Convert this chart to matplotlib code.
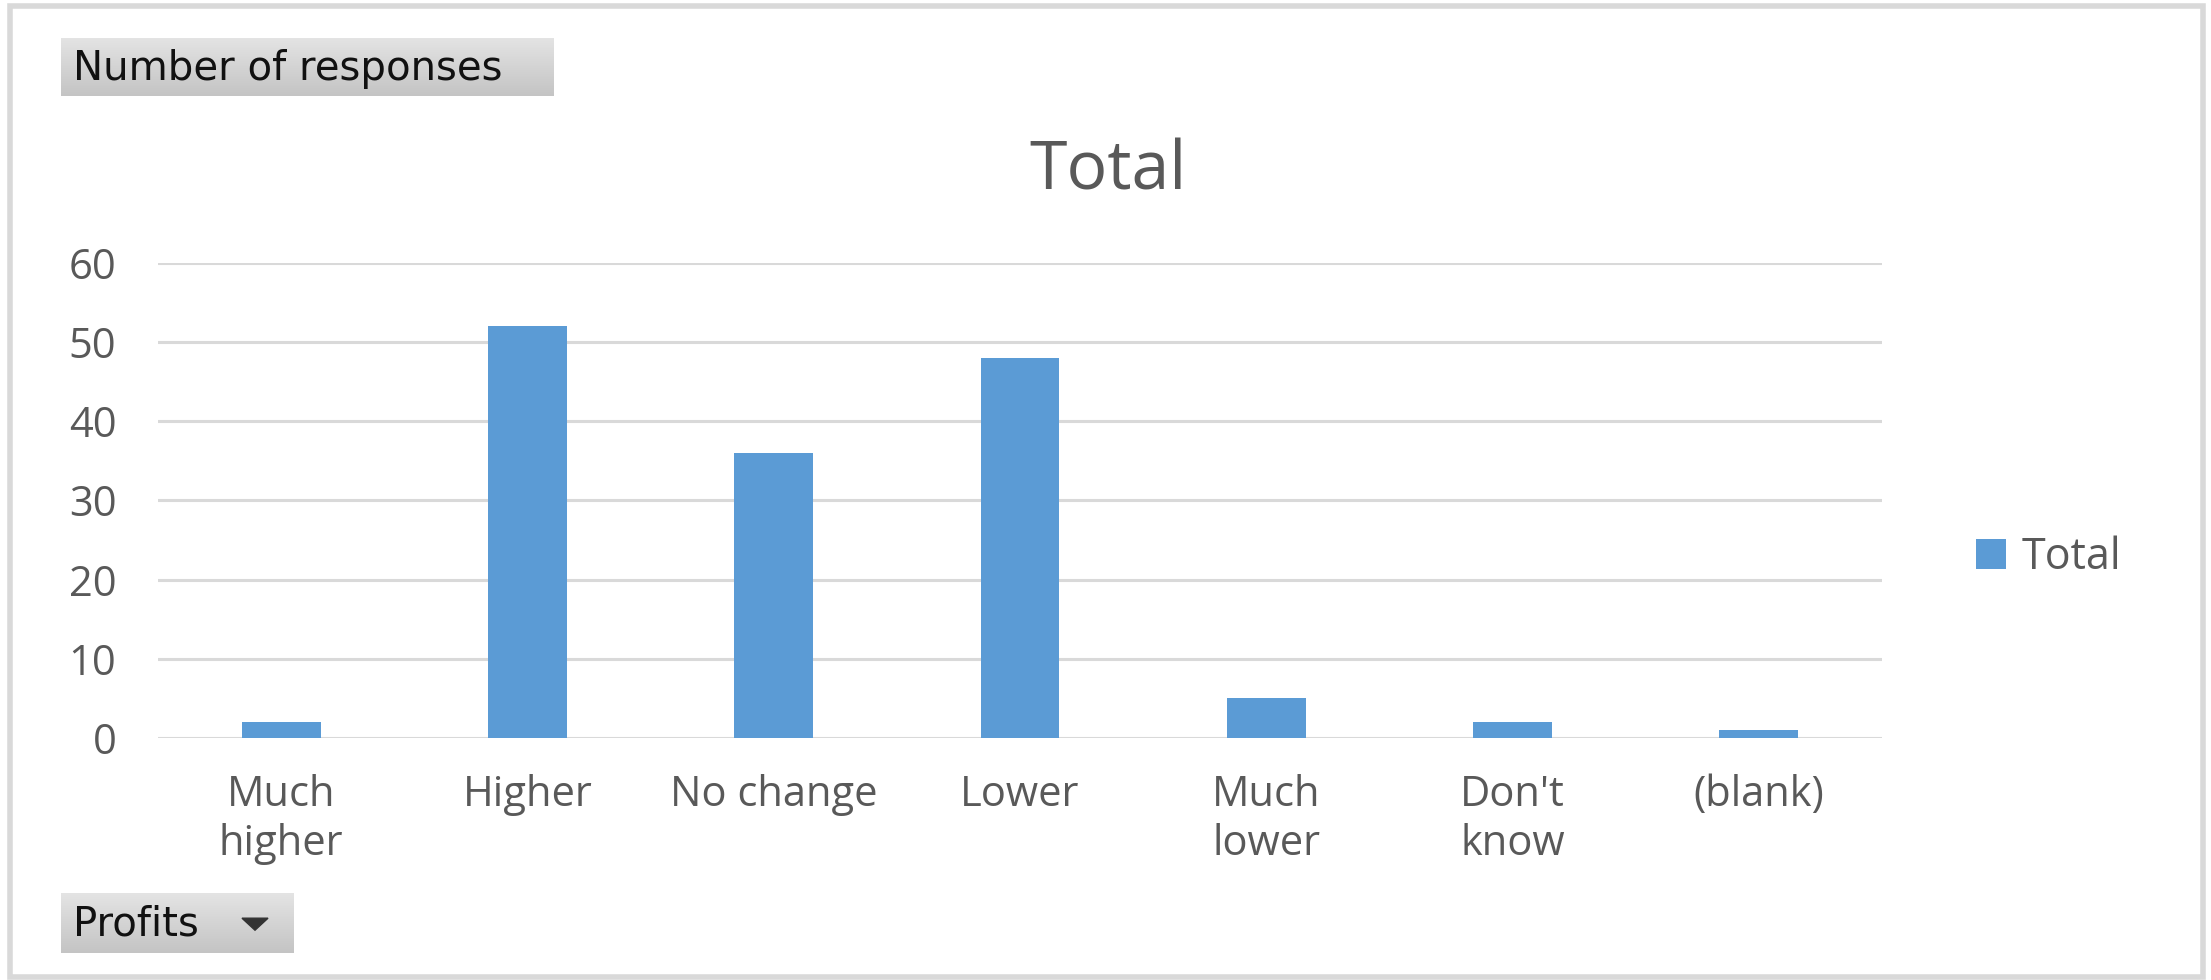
import numpy as np
import matplotlib
matplotlib.use("Agg")
import matplotlib.pyplot as plt
from matplotlib.patches import Rectangle, Polygon
from matplotlib.colors import LinearSegmentedColormap

# data
categories = ["Much\nhigher", "Higher", "No change", "Lower", "Much\nlower", "Don't\nknow", "(blank)"]
totals = [2, 52, 36, 48, 5, 2, 1]
yticks = [0, 10, 20, 30, 40, 50, 60]

W, H = 2211, 980
plt.rcParams['font.family'] = ['Open Sans', 'DejaVu Sans']
grey_txt = '#595959'
grid_col = '#d9d9d9'
bar_col = '#5b9bd5'

fig = plt.figure(figsize=(W / 100, H / 100), dpi=100)
fig.patch.set_facecolor('white')

# outer frame
fig.patches.append(Rectangle((10 / W, 1 - 977 / H), (2203 - 10) / W, (977 - 6) / H,
                             transform=fig.transFigure, fill=False, ec=grid_col, lw=4))

# plot area
ax = fig.add_axes([158 / W, 1 - 738 / H, (1882 - 158) / W, (738 - 263) / H])
x = np.arange(len(categories))
ax.bar(x, totals, width=0.32, color=bar_col, label='Total', zorder=3)
ax.set_xlim(-0.5, len(categories) - 0.5)
ax.set_ylim(0, 60)
ax.set_yticks(yticks)
ax.set_xticks(x)
ax.set_xticklabels(categories, linespacing=1.2)
for s in ax.spines.values():
    s.set_visible(False)
ax.yaxis.grid(True, color=grid_col, lw=2.2, zorder=0)
ax.tick_params(axis='both', length=0, labelsize=30, colors=grey_txt)
ax.tick_params(axis='y', pad=30)
ax.tick_params(axis='x', pad=26)

# chart title sits over the whole chart, not just the plot area
fig.text(1108 / W, 1 - 190 / H, 'Total', fontsize=49, color=grey_txt,
         ha='center', va='baseline')

leg = ax.legend(loc='center left', bbox_to_anchor=(1.032, 0.38), frameon=False,
                fontsize=31, handlelength=0.7, handleheight=0.7, handletextpad=0.35)
for t in leg.get_texts():
    t.set_color(grey_txt)

# pivot field buttons
cmap = LinearSegmentedColormap.from_list('btn', ['#e4e4e4', '#c4c4c4'])
grad = np.linspace(0, 1, 64).reshape(-1, 1)

def button(x0, y0, x1, y1, label, arrow=False):
    bax = fig.add_axes([x0 / W, 1 - y1 / H, (x1 - x0) / W, (y1 - y0) / H])
    bax.imshow(grad, aspect='auto', cmap=cmap, extent=[0, 1, 0, 1], origin='upper')
    bax.set_xlim(0, 1)
    bax.set_ylim(0, 1)
    bax.axis('off')
    bax.text(12 / (x1 - x0), 0.47, label, fontsize=29, color='#111111', va='center',
             ha='left', family=['DejaVu Sans'])
    if arrow:
        ax_w = x1 - x0
        tri = Polygon([((ax_w - 52) / ax_w, 0.58), ((ax_w - 26) / ax_w, 0.58),
                       ((ax_w - 39) / ax_w, 0.38)], closed=True, color='#333333')
        bax.add_patch(tri)
    return bax

button(61, 38, 554, 96, 'Number of responses')
button(61, 893, 294, 953, 'Profits', arrow=True)

fig.savefig('out.png', dpi=100)
